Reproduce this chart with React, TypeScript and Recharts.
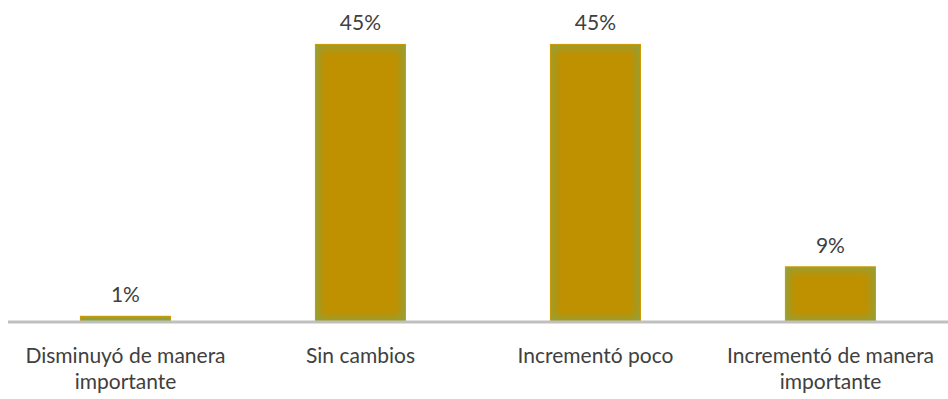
import React from "react";
import { BarChart, Bar, XAxis, YAxis, LabelList } from "recharts";

const categories: string[][] = [
  ["Disminuyó de manera", "importante"],
  ["Sin cambios"],
  ["Incrementó poco"],
  ["Incrementó de manera", "importante"],
];
const values: number[] = [1, 45, 45, 9];

const data = categories.map((lines, i) => ({ name: lines.join(" "), lines, value: values[i] }));

const FONT = "Lato, 'Open Sans', sans-serif";
const TEXT = "#404040";
const FONT_SIZE = 21;

const GlowBar = (props: any) => {
  const { x, y, width, height, index } = props;
  if (!height || height <= 0) return null;
  const id = `bar-clip-${index}`;
  const inset = Math.min(4, height / 2 - 0.5);
  return (
    <g>
      <defs>
        <clipPath id={id}>
          <rect x={x} y={y} width={width} height={height} />
        </clipPath>
        <filter id={`${id}-blur`} x="-30%" y="-30%" width="160%" height="160%">
          <feGaussianBlur stdDeviation={4} />
        </filter>
      </defs>
      <g clipPath={`url(#${id})`}>
        <rect x={x} y={y} width={width} height={height} fill="#8FA23C" />
        {inset > 0 && (
          <rect
            x={x + inset}
            y={y + inset}
            width={Math.max(0, width - 2 * inset)}
            height={Math.max(0, height - 2 * inset)}
            fill="#BF9000"
            filter={`url(#${id}-blur)`}
          />
        )}
      </g>
      <rect x={x + 0.5} y={y + 0.5} width={width - 1} height={height - 1} fill="none" stroke="#D39A00" strokeWidth={1} />
    </g>
  );
};

const CategoryTick = (props: any) => {
  const { x, y, payload, index } = props;
  const lines = categories[index] ?? [String(payload.value)];
  return (
    <g transform={`translate(${x},${y})`}>
      {lines.map((l: string, i: number) => (
        <text
          key={i}
          x={0}
          y={24.5 + i * 25.7}
          textAnchor="middle"
          dominantBaseline="central"
          fontFamily={FONT}
          fontSize={FONT_SIZE}
          fill={TEXT}
        >
          {l}
        </text>
      ))}
    </g>
  );
};

const ValueLabel = (props: any) => {
  const { x, y, width, value } = props;
  return (
    <text
      x={x + width / 2}
      y={y - 22}
      textAnchor="middle"
      dominantBaseline="central"
      fontFamily={FONT}
      fontSize={FONT_SIZE}
      fill={TEXT}
    >
      {`${value}%`}
    </text>
  );
};

export default function App() {
  return (
    <div style={{ position: "absolute", left: 0, top: 0, background: "#fff" }}>
      <BarChart
        width={948}
        height={399}
        data={data}
        margin={{ top: 13, right: 0, bottom: 0, left: 8 }}
        barCategoryGap="30.6%"
      >
        <XAxis
          dataKey="name"
          height={77}
          axisLine={{ stroke: "#BFBFBF", strokeWidth: 3 }}
          tickLine={false}
          tick={<CategoryTick />}
          interval={0}
        />
        <YAxis hide domain={[0, 50]} />
        <Bar dataKey="value" isAnimationActive={false} shape={<GlowBar />}>
          <LabelList dataKey="value" content={<ValueLabel />} />
        </Bar>
      </BarChart>
    </div>
  );
}
